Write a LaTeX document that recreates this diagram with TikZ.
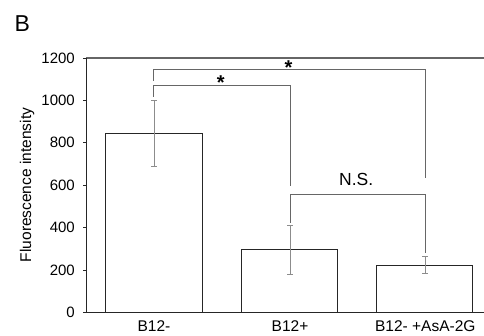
\documentclass[tikz,border=0pt]{standalone}
\usepackage{fontspec}
\setmainfont{Liberation Sans}
\begin{document}
\begin{tikzpicture}[x=1pt,y=-1pt,
  axis/.style={draw=black!85,line width=0.9pt},
  barbox/.style={draw=black!85,line width=0.9pt,fill=white},
  errbar/.style={draw=black!45,line width=0.8pt},
  brk/.style={draw=black!60,line width=1pt},
  ticklbl/.style={font=\fontsize{15}{17}\selectfont,anchor=east,inner sep=0pt},
  catlbl/.style={font=\fontsize{15.5}{17}\selectfont,inner sep=0pt},
  sig/.style={font=\bfseries\fontsize{20}{22}\selectfont,inner sep=0pt,anchor=base}]
\useasboundingbox (0,0) rectangle (484,335);
% panel letter
\node[font=\fontsize{23}{26}\selectfont,anchor=north west,inner sep=0pt] (panel) at (14.5,15) {B};
% y label
\node[font=\fontsize{15.5}{17}\selectfont,rotate=90,inner sep=0pt] (ylab) at (27,185) {Fluorescence intensity};
% frame top line at 1200
\draw[brk,line width=1.1pt] (86,58) -- (484,58);
% bars
\draw[barbox] (105.7,312.3) rectangle (202.7,133.3);
\draw[barbox] (241.7,312.3) rectangle (337.3,249.3);
\draw[barbox] (376.7,312.3) rectangle (472.3,265);
% error bars
\foreach \x/\t/\b [count=\i] in {154/100.5/166, 290/225.3/274.7, 425.3/256/273.7}{
  \coordinate (et\i) at (\x,\t);
  \coordinate (eb\i) at (\x,\b);
  \draw[errbar] (et\i) -- (eb\i);
  \draw[errbar] ([xshift=-3pt]et\i) -- ([xshift=3pt]et\i);
  \draw[errbar] ([xshift=-3pt]eb\i) -- ([xshift=3pt]eb\i);
}
% axes
\draw[axis] (86,58) -- (86,312.3) -- (484,312.3);
\foreach \v/\y in {0/312.3,200/270,400/227.5,600/185.2,800/142.8,1000/100.5,1200/58}{
  \draw[axis] (83,\y) -- (86,\y);
  \node[ticklbl] at (75,\y) {\v};
}
% category labels
\node[catlbl] (c1) at (154,326.5) {B12-};
\node[catlbl] (c2) at (290,326.5) {B12+};
\node[catlbl] (c3) at (425.3,326.5) {B12- +AsA-2G};
% brackets
\coordinate (b1l) at (153.3,96.7);
\coordinate (b1r) at (290,186);
\draw[brk] (b1l) -- (153.3,85) -- (290,85) -- (b1r);
\node[sig] (s1) at (220.7,89.5) {*};
\coordinate (b2l) at (153.3,80.7);
\coordinate (b2r) at (425.3,178.3);
\draw[brk] (b2l) -- (153.3,69.3) -- (425.3,69.3) -- (b2r);
\node[sig] (s2) at (288.5,74.2) {*};
\coordinate (b3l) at (290,222.7);
\coordinate (b3r) at (425.3,253.3);
\draw[brk] (b3l) -- (290,194.3) -- (425.3,194.3) -- (b3r);
\node[font=\fontsize{17.5}{19}\selectfont,inner sep=0pt] (ns) at (356.2,179.5) {N.S.};
\end{tikzpicture}
\end{document}
